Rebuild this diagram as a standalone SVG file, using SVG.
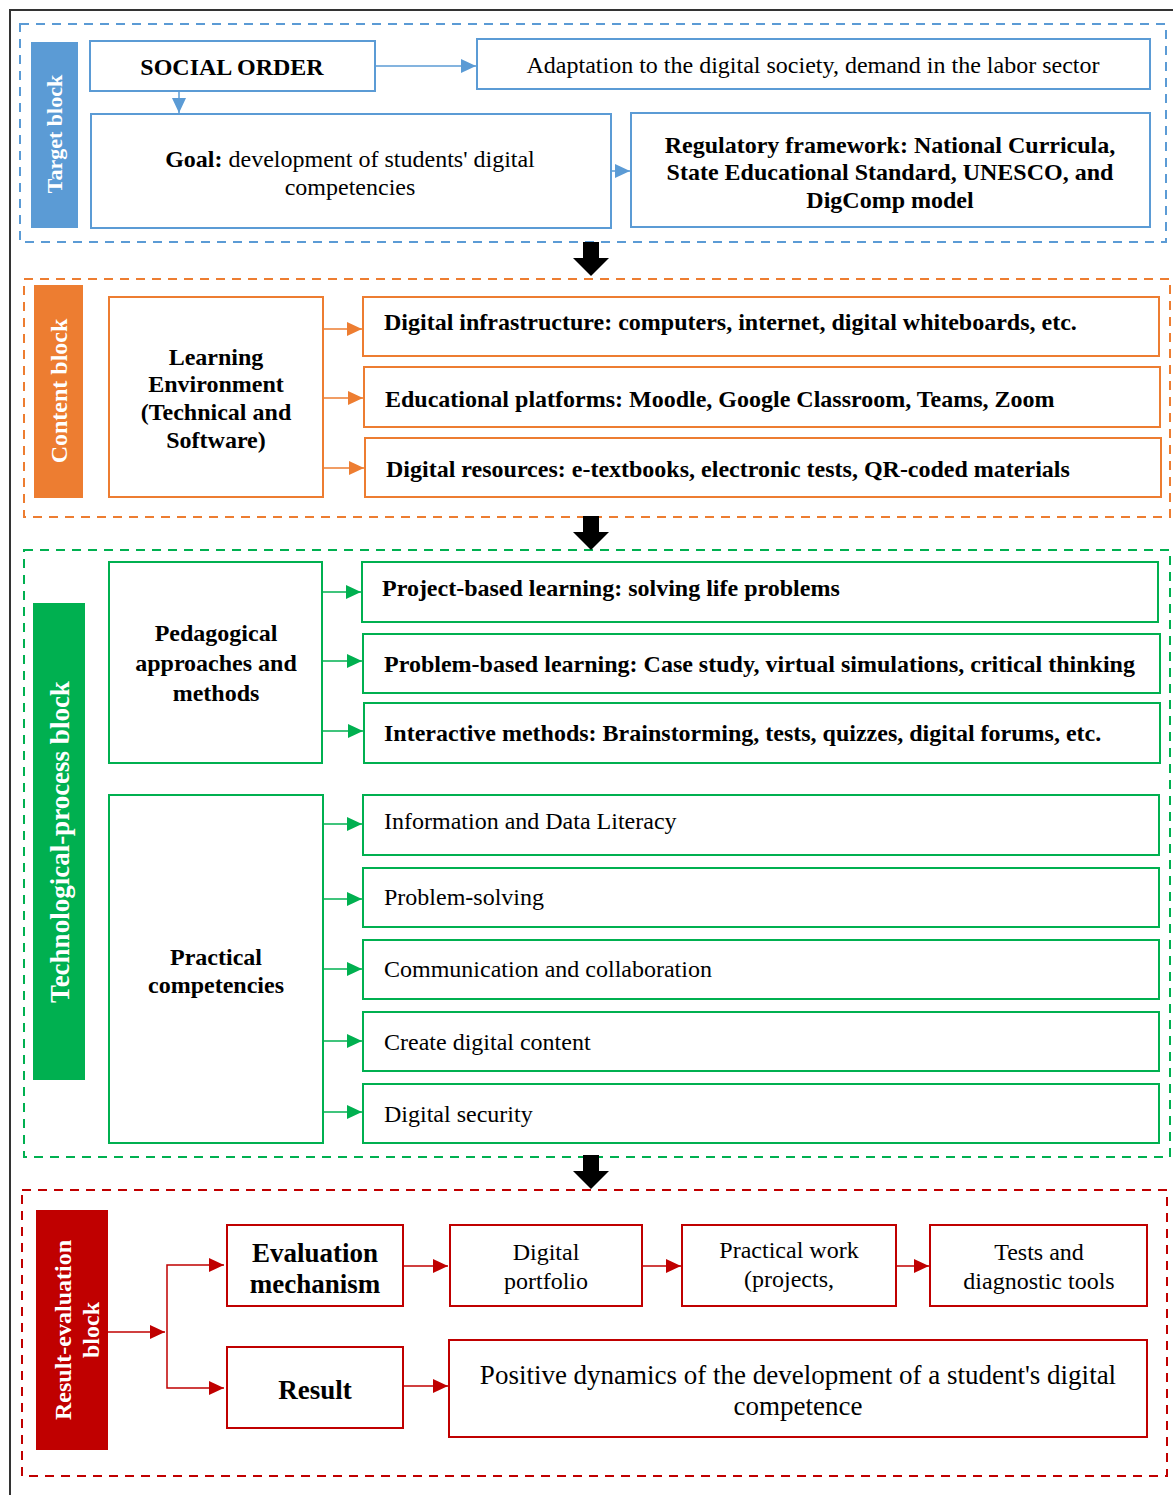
<svg xmlns="http://www.w3.org/2000/svg" width="1173" height="1495" viewBox="0 0 1173 1495">
<style>
text{font-family:"Liberation Serif","Times New Roman",serif;fill:#000}
.b{font-weight:bold}
.lbl{font-weight:bold;fill:#fff}
.box{fill:#fff;stroke-width:2}
.blue{stroke:#5B9BD5}
.orange{stroke:#ED7D31}
.green{stroke:#00B050}
.red{stroke:#C00000}
.dash{fill:none;stroke-width:2;stroke-dasharray:9 7}
.ln{fill:none;stroke-width:1.5}
</style>
<defs>
<marker id="ab" markerUnits="userSpaceOnUse" markerWidth="16" markerHeight="16" refX="15" refY="8" orient="auto"><path d="M0,1 L15,8 L0,15 z" fill="#5B9BD5"/></marker>
<marker id="ao" markerUnits="userSpaceOnUse" markerWidth="16" markerHeight="16" refX="15" refY="8" orient="auto"><path d="M0,1 L15,8 L0,15 z" fill="#ED7D31"/></marker>
<marker id="ag" markerUnits="userSpaceOnUse" markerWidth="16" markerHeight="16" refX="15" refY="8" orient="auto"><path d="M0,1 L15,8 L0,15 z" fill="#00B050"/></marker>
<marker id="ar" markerUnits="userSpaceOnUse" markerWidth="16" markerHeight="16" refX="15" refY="8" orient="auto"><path d="M0,1 L15,8 L0,15 z" fill="#C00000"/></marker>
<path id="blk" d="M-8,0 H8 V16 H18 L0,34 L-18,16 H-8 z" fill="#000"/>
</defs>
<rect width="1173" height="1495" fill="#fff"/>
<path d="M10,1495 V10 H1173" fill="none" stroke="#333" stroke-width="2"/>

<!-- group frames -->
<g id="frames">
<rect class="dash blue" x="20" y="24" width="1146" height="218"/>
<rect class="dash orange" x="24" y="279" width="1146" height="238"/>
<rect class="dash green" x="24" y="550" width="1146" height="607"/>
<rect class="dash red" x="22" y="1190" width="1145" height="286"/>
</g>

<!-- connectors -->
<g id="connectors">
<use href="#blk" x="591" y="242"/>
<use href="#blk" x="591" y="516"/>
<use href="#blk" x="591" y="1155"/>
<g class="ln blue" marker-end="url(#ab)">
<path d="M375,66 H476"/>
<path d="M179,91 V113"/>
<path d="M611,171 H630"/>
</g>
<g class="ln orange" marker-end="url(#ao)">
<path d="M323,329 H362"/>
<path d="M323,398 H363"/>
<path d="M323,468 H364"/>
</g>
<g class="ln green" marker-end="url(#ag)">
<path d="M322,592 H361"/>
<path d="M319,661 H362"/>
<path d="M320,731 H363"/>
<path d="M323,824 H362"/>
<path d="M321,899 H362"/>
<path d="M323,969 H362"/>
<path d="M323,1041 H362"/>
<path d="M323,1112 H362"/>
</g>
<g class="ln red" marker-end="url(#ar)">
<path d="M108,1332 H165"/>
<path d="M167,1332 V1265 H224"/>
<path d="M167,1332 V1388 H224"/>
<path d="M403,1266 H448"/>
<path d="M642,1266 H681"/>
<path d="M896,1266 H929"/>
<path d="M403,1386 H448"/>
</g>
</g>

<!-- Target block -->
<g id="target-label"><rect x="31" y="42" width="47" height="186" fill="#5B9BD5"/><text class="lbl" font-size="22" text-anchor="middle" transform="translate(62,134) rotate(-90)">Target block</text></g>
<g id="social-order"><rect class="box blue" x="90" y="41" width="285" height="50"/><text class="b" font-size="24" x="232" y="75" text-anchor="middle">SOCIAL ORDER</text></g>
<g id="adaptation"><rect class="box blue" x="477" y="39" width="673" height="50"/><text font-size="24" x="813" y="73" text-anchor="middle">Adaptation to the digital society, demand in the labor sector</text></g>
<g id="goal"><rect class="box blue" x="91" y="114" width="520" height="114"/><text font-size="24" x="350" y="167" text-anchor="middle"><tspan class="b">Goal:</tspan> development of students' digital</text><text font-size="24" x="350" y="195" text-anchor="middle">competencies</text></g>
<g id="regulatory"><rect class="box blue" x="631" y="113" width="519" height="114"/><text class="b" font-size="24" text-anchor="middle"><tspan x="890" y="153">Regulatory framework: National Curricula,</tspan><tspan x="890" y="180">State Educational Standard, UNESCO, and</tspan><tspan x="890" y="208">DigComp model</tspan></text></g>

<!-- Content block -->
<g id="content-label"><rect x="34" y="285" width="49" height="213" fill="#ED7D31"/><text class="lbl" font-size="24" text-anchor="middle" transform="translate(67,391) rotate(-90)">Content block</text></g>
<g id="learning-env"><rect class="box orange" x="109" y="297" width="214" height="200"/><text class="b" font-size="24" text-anchor="middle"><tspan x="216" y="365">Learning</tspan><tspan x="216" y="392">Environment</tspan><tspan x="216" y="420">(Technical and</tspan><tspan x="216" y="448">Software)</tspan></text></g>
<g id="infra"><rect class="box orange" x="363" y="297" width="796" height="59"/><text class="b" font-size="24" x="384" y="330">Digital infrastructure: computers, internet, digital whiteboards, etc.</text></g>
<g id="platforms"><rect class="box orange" x="364" y="367" width="796" height="60"/><text class="b" font-size="24" x="385" y="407">Educational platforms: Moodle, Google Classroom, Teams, Zoom</text></g>
<g id="resources"><rect class="box orange" x="365" y="438" width="796" height="59"/><text class="b" font-size="24" x="386" y="477">Digital resources: e-textbooks, electronic tests, QR-coded materials</text></g>

<!-- Technological-process block -->
<g id="tech-label"><rect x="33" y="603" width="52" height="477" fill="#00B050"/><text class="lbl" font-size="27" text-anchor="middle" transform="translate(69,842) rotate(-90)">Technological-process block</text></g>
<g id="pedagogical"><rect class="box green" x="109" y="562" width="213" height="201"/><text class="b" font-size="24" text-anchor="middle"><tspan x="216" y="641">Pedagogical</tspan><tspan x="216" y="671">approaches and</tspan><tspan x="216" y="701">methods</tspan></text></g>
<g id="project"><rect class="box green" x="362" y="562" width="796" height="60"/><text class="b" font-size="24" x="382" y="596">Project-based learning: solving life problems</text></g>
<g id="problem"><rect class="box green" x="363" y="634" width="797" height="59"/><text class="b" font-size="24" x="384" y="672">Problem-based learning: Case study, virtual simulations, critical thinking</text></g>
<g id="interactive"><rect class="box green" x="364" y="703" width="796" height="60"/><text class="b" font-size="24" x="384" y="741">Interactive methods: Brainstorming, tests, quizzes, digital forums, etc.</text></g>
<g id="practical"><rect class="box green" x="109" y="795" width="214" height="348"/><text class="b" font-size="24" text-anchor="middle"><tspan x="216" y="965">Practical</tspan><tspan x="216" y="993">competencies</tspan></text></g>
<g id="info-literacy"><rect class="box green" x="363" y="795" width="796" height="60"/><text font-size="24" x="384" y="829">Information and Data Literacy</text></g>
<g id="problem-solving"><rect class="box green" x="363" y="868" width="796" height="59"/><text font-size="24" x="384" y="905">Problem-solving</text></g>
<g id="communication"><rect class="box green" x="363" y="940" width="796" height="59"/><text font-size="24" x="384" y="977">Communication and collaboration</text></g>
<g id="create-content"><rect class="box green" x="363" y="1012" width="796" height="59"/><text font-size="24" x="384" y="1050">Create digital content</text></g>
<g id="security"><rect class="box green" x="363" y="1084" width="796" height="59"/><text font-size="24" x="384" y="1122">Digital security</text></g>

<!-- Result-evaluation block -->
<g id="result-label"><rect x="36" y="1210" width="72" height="240" fill="#C00000"/><text class="lbl" font-size="24" text-anchor="middle" transform="translate(62,1330) rotate(-90)"><tspan x="0" y="9">Result-evaluation</tspan><tspan x="0" y="37">block</tspan></text></g>
<g id="evaluation"><rect class="box red" x="227" y="1225" width="176" height="81"/><text class="b" font-size="27" text-anchor="middle"><tspan x="315" y="1262">Evaluation</tspan><tspan x="315" y="1293">mechanism</tspan></text></g>
<g id="portfolio"><rect class="box red" x="450" y="1225" width="192" height="81"/><text font-size="24" text-anchor="middle"><tspan x="546" y="1260">Digital</tspan><tspan x="546" y="1289">portfolio</tspan></text></g>
<g id="practical-work"><rect class="box red" x="682" y="1225" width="214" height="81"/><text font-size="24" text-anchor="middle"><tspan x="789" y="1258">Practical work</tspan><tspan x="789" y="1287">(projects,</tspan></text></g>
<g id="tests"><rect class="box red" x="930" y="1225" width="217" height="81"/><text font-size="24" text-anchor="middle"><tspan x="1039" y="1260">Tests and</tspan><tspan x="1039" y="1289">diagnostic tools</tspan></text></g>
<g id="result"><rect class="box red" x="227" y="1347" width="176" height="81"/><text class="b" font-size="27" x="315" y="1399" text-anchor="middle">Result</text></g>
<g id="positive"><rect class="box red" x="449" y="1340" width="698" height="97"/><text font-size="27" text-anchor="middle"><tspan x="798" y="1384">Positive dynamics of the development of a student's digital</tspan><tspan x="798" y="1415">competence</tspan></text></g>
</svg>
